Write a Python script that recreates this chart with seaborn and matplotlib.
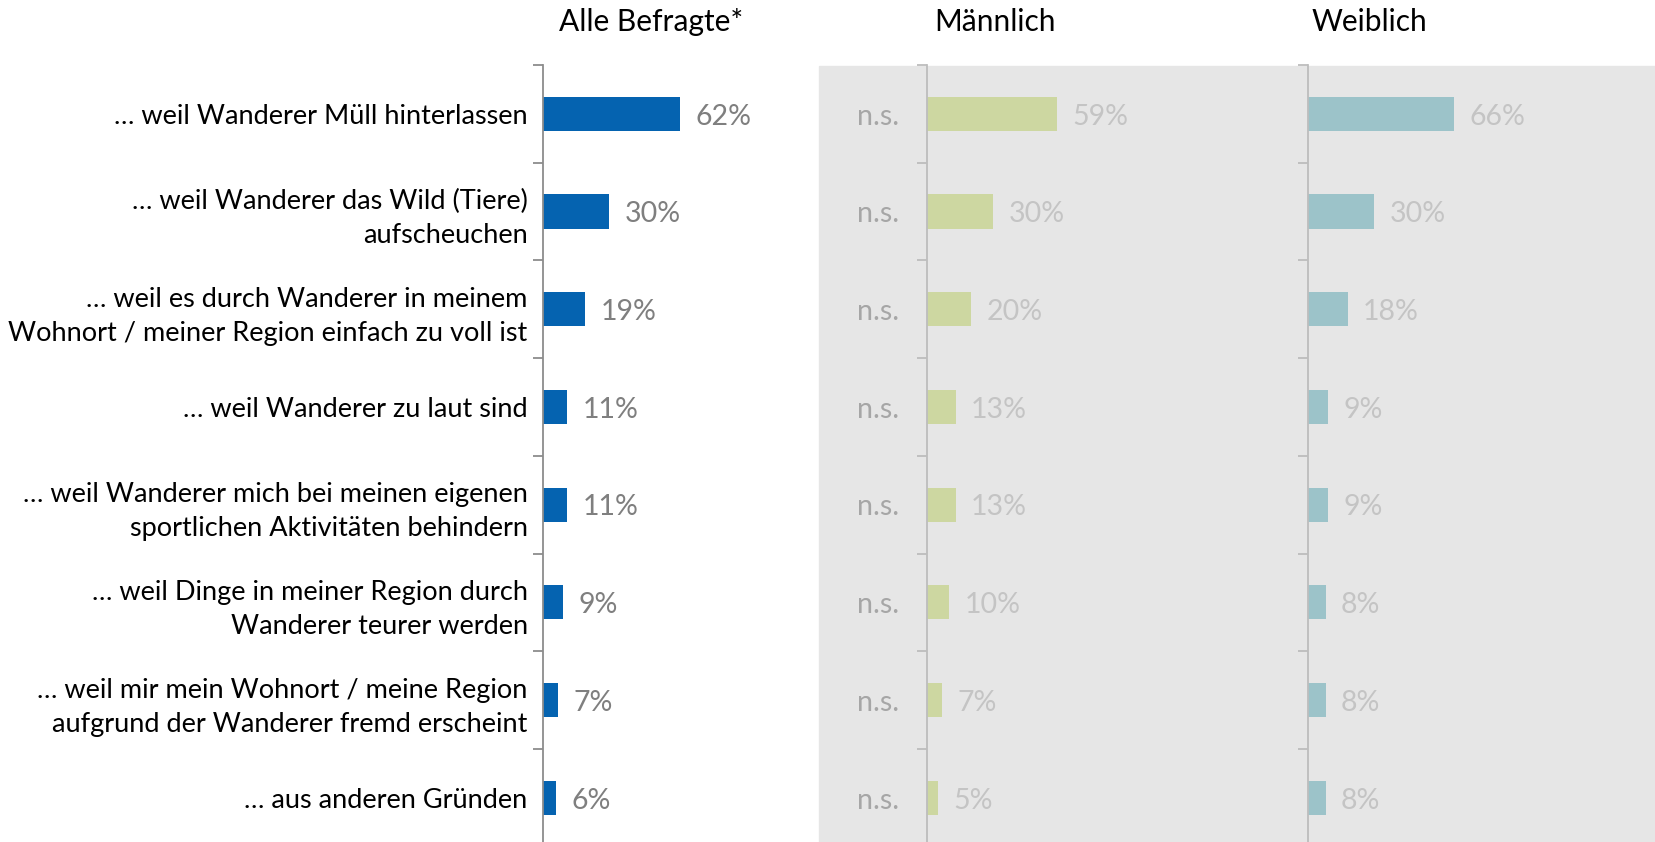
import matplotlib
matplotlib.use("Agg")
import matplotlib.pyplot as plt
from matplotlib.patches import Rectangle
import seaborn as sns
import pandas as pd

# data
reasons = [
    "… weil Wanderer Müll hinterlassen",
    "… weil Wanderer das Wild (Tiere)\naufscheuchen",
    "… weil es durch Wanderer in meinem\nWohnort / meiner Region einfach zu voll ist",
    "… weil Wanderer zu laut sind",
    "… weil Wanderer mich bei meinen eigenen\nsportlichen Aktivitäten behindern",
    "… weil Dinge in meiner Region durch\nWanderer teurer werden",
    "… weil mir mein Wohnort / meine Region\naufgrund der Wanderer fremd erscheint",
    "… aus anderen Gründen",
]
alle = [62, 30, 19, 11, 11, 9, 7, 6]
maennlich = [59, 30, 20, 13, 13, 10, 7, 5]
weiblich = [66, 30, 18, 9, 9, 8, 8, 8]
sig_note = ["n.s."] * 8
titles = ["Alle Befragte*", "Männlich", "Weiblich"]

sns.set_style("white")
plt.rcParams['font.family'] = ['Lato', 'DejaVu Sans']

W, H = 1655, 842
fig = plt.figure(figsize=(W / 100, H / 100), dpi=100)

# grey block behind the gender panels
fig.add_artist(Rectangle((819 / W, 0), 1 - 819 / W, 1 - 66 / H,
                         transform=fig.transFigure, color='#e6e6e6', zorder=-1))

top = 65
bottom = top + 8 * 97.7
panel_x = [543, 927, 1308]
title_x = [651, 995, 1369]
px_per_pct = 2.21
width_pct = 100

series = [alle, maennlich, weiblich]
colors = ['#0563b0', '#cdd7a1', '#9cc3c9']
val_colors = ['#7f7f7f', '#c4c4c4', '#c4c4c4']
spine_colors = ['#8c8c8c', '#bdbdbd', '#bdbdbd']
fs_label = 19.5
fs_val = 20.5

for k in range(3):
    ax = fig.add_axes([panel_x[k] / W, 1 - bottom / H,
                       width_pct * px_per_pct / W, (bottom - top) / H])
    ax.set_facecolor('none')
    df = pd.DataFrame({'reason': reasons, 'pct': series[k]})
    sns.barplot(data=df, x='pct', y='reason', ax=ax, color=colors[k],
                saturation=1, width=0.35, orient='h', linewidth=0)
    ax.set_xlim(0, width_pct)
    ax.set_ylim(7.5, -0.5)
    ax.set_xlabel('')
    ax.set_ylabel('')
    ax.set_xticks([])
    for s in ['top', 'right', 'bottom']:
        ax.spines[s].set_visible(False)
    ax.spines['left'].set_color(spine_colors[k])
    ax.spines['left'].set_linewidth(1.3)
    ax.set_yticks([i - 0.5 for i in range(9)], minor=True)
    ax.tick_params(axis='y', which='minor', length=7, width=1.3,
                   color=spine_colors[k], direction='out', left=True)
    ax.tick_params(axis='y', which='major', length=0, pad=11)
    ax.set_yticks(range(8))
    if k == 0:
        ax.set_yticklabels(reasons, fontsize=fs_label, color='black',
                           linespacing=1.45)
    else:
        ax.set_yticklabels([''] * 8)
    if k == 1:
        for i, t in enumerate(sig_note):
            ax.annotate(t, xy=(0, i), xytext=(-20, -2), textcoords='offset points',
                        ha='right', va='center', fontsize=fs_val, color='#a6a6a6')
    for i, v in enumerate(series[k]):
        ax.annotate(f"{v}%", xy=(v, i), xytext=(11, -2), textcoords='offset points',
                    ha='left', va='center', fontsize=fs_val, color=val_colors[k])
    fig.text(title_x[k] / W, 1 - 22 / H, titles[k], ha='center', va='center',
             fontsize=21.5, color='black')

fig.savefig('out.png', dpi=100)
